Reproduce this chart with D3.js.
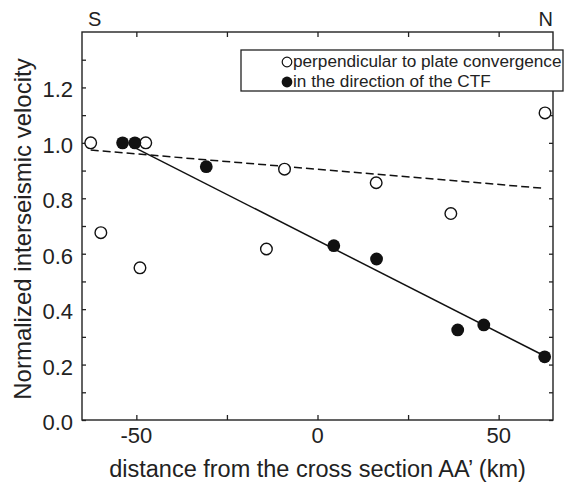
<!DOCTYPE html>
<html>
<head>
<meta charset="utf-8">
<script src="https://cdn.jsdelivr.net/npm/d3@7"></script>
<style>
	body { margin: 0; background: #fff; }
	svg text { font-family: "Liberation Sans", Arial, sans-serif; fill: #222; }
</style>
</head>
<body>
<div id="chart"></div>
<script>
// Velocities perpendicular to plate convergence (open circles)
const perpDistance = [-62.6, -59.8, -49.0, -47.4, -14.1, -9.1, 16.2, 36.8, 62.8];
const perpVelocity = [1.0, 0.676, 0.549, 1.0, 0.617, 0.905, 0.856, 0.745, 1.108];

// Velocities in the direction of the CTF (filled circles)
const ctfDistance = [-53.8, -50.4, -30.7, 4.5, 16.3, 38.7, 45.9, 62.7];
const ctfVelocity = [1.0, 1.0, 0.914, 0.629, 0.581, 0.325, 0.343, 0.228];

// Fitted trend lines (end points)
const perpFitDistance = [-62.6, 62.5];
const perpFitVelocity = [0.974, 0.836];
const ctfFitDistance = [-51.8, 62.7];
const ctfFitVelocity = [0.992, 0.231];

// Ticks
const xMajorTicks = [-50, 0, 50];
const xAllTicks = [-50, -25, 0, 25, 50];
const yMajorTicks = [0.0, 0.2, 0.4, 0.6, 0.8, 1.0, 1.2];
const yAllTicks = [0.0, 0.1, 0.2, 0.3, 0.4, 0.5, 0.6, 0.7, 0.8, 0.9, 1.0, 1.1, 1.2, 1.3];

const legendLabels = ["perpendicular to plate convergence", "in the direction of the CTF"];

const width = 564, height = 484;
const margin = { top: 32, right: 11, bottom: 64, left: 82 };

const svg = d3.select("#chart").append("svg")
	.attr("width", width)
	.attr("height", height);

// Scales
const x = d3.scaleLinear().domain([-65, 65]).range([margin.left, width - margin.right]);
const y = d3.scaleLinear().domain([0, 1.4]).range([height - margin.bottom, margin.top]);

const axisColour = "#222";

// Tick marks point inwards on all four sides
function tickMarks(axis) {
	return axis.tickFormat("").tickSizeOuter(0);
}

svg.append("g")
	.attr("transform", `translate(0,${y(0)})`)
	.call(tickMarks(d3.axisTop(x).tickValues(xAllTicks).tickSizeInner(5)));

svg.append("g")
	.attr("transform", `translate(0,${y(1.4)})`)
	.call(tickMarks(d3.axisBottom(x).tickValues(xAllTicks).tickSizeInner(5)));

svg.append("g")
	.attr("transform", `translate(${x(-65)},0)`)
	.call(tickMarks(d3.axisRight(y).tickValues(yAllTicks).tickSizeInner(4)));

svg.append("g")
	.attr("transform", `translate(${x(65)},0)`)
	.call(tickMarks(d3.axisLeft(y).tickValues(yAllTicks).tickSizeInner(4)));

svg.selectAll(".domain").remove();
svg.selectAll(".tick line").attr("stroke", axisColour).attr("stroke-width", 1.3);

// Frame
svg.append("rect")
	.attr("x", x(-65))
	.attr("y", y(1.4))
	.attr("width", x(65) - x(-65))
	.attr("height", y(0) - y(1.4))
	.attr("fill", "none")
	.attr("stroke", axisColour)
	.attr("stroke-width", 1.4);

// Tick labels
svg.append("g").selectAll("text")
	.data(xMajorTicks)
	.enter()
	.append("text")
	.attr("x", (d) => x(d))
	.attr("y", y(0) + 23)
	.attr("text-anchor", "middle")
	.attr("font-size", 22)
	.text((d) => d);

svg.append("g").selectAll("text")
	.data(yMajorTicks)
	.enter()
	.append("text")
	.attr("x", x(-65) - 9)
	.attr("y", (d) => y(d) + 10)
	.attr("text-anchor", "end")
	.attr("font-size", 22)
	.text((d) => d3.format(".1f")(d));

// Axis titles
svg.append("text")
	.attr("x", x(0))
	.attr("y", 477)
	.attr("text-anchor", "middle")
	.attr("font-size", 23.5)
	.text("distance from the cross section AA\u2019 (km)");

svg.append("text")
	.attr("transform", `translate(31,${(y(0) + y(1.4)) / 2 + 3}) rotate(-90)`)
	.attr("text-anchor", "middle")
	.attr("font-size", 24)
	.text("Normalized interseismic velocity");

// Orientation labels
svg.append("text")
	.attr("x", x(-65) + 6)
	.attr("y", 26)
	.attr("font-size", 20)
	.text("S");

svg.append("text")
	.attr("x", x(65))
	.attr("y", 26)
	.attr("text-anchor", "end")
	.attr("font-size", 20)
	.text("N");

// Trend lines
const line = d3.line().x((d) => x(d[0])).y((d) => y(d[1]));

svg.append("path")
	.attr("d", line(d3.zip(perpFitDistance, perpFitVelocity)))
	.attr("fill", "none")
	.attr("stroke", "#111")
	.attr("stroke-width", 1.5)
	.attr("stroke-dasharray", "8,4");

svg.append("path")
	.attr("d", line(d3.zip(ctfFitDistance, ctfFitVelocity)))
	.attr("fill", "none")
	.attr("stroke", "#111")
	.attr("stroke-width", 1.5);

// Data points
svg.append("g").selectAll("circle")
	.data(d3.zip(perpDistance, perpVelocity))
	.enter()
	.append("circle")
	.attr("cx", (d) => x(d[0]))
	.attr("cy", (d) => y(d[1]))
	.attr("r", 5.8)
	.attr("fill", "#fff")
	.attr("stroke", "#111")
	.attr("stroke-width", 1.4);

svg.append("g").selectAll("circle")
	.data(d3.zip(ctfDistance, ctfVelocity))
	.enter()
	.append("circle")
	.attr("cx", (d) => x(d[0]))
	.attr("cy", (d) => y(d[1]))
	.attr("r", 6.4)
	.attr("fill", "#111");

// Legend
const legend = svg.append("g");

legend.append("rect")
	.attr("x", 241)
	.attr("y", 50)
	.attr("width", 322)
	.attr("height", 41)
	.attr("fill", "#fff")
	.attr("stroke", axisColour)
	.attr("stroke-width", 1.3);

legend.append("circle")
	.attr("cx", 287)
	.attr("cy", 62)
	.attr("r", 4.8)
	.attr("fill", "#fff")
	.attr("stroke", "#111")
	.attr("stroke-width", 1.2);

legend.append("circle")
	.attr("cx", 287)
	.attr("cy", 82)
	.attr("r", 5.4)
	.attr("fill", "#111");

legend.selectAll("text")
	.data(legendLabels)
	.enter()
	.append("text")
	.attr("x", 293)
	.attr("y", (d, i) => 67 + i * 20)
	.attr("font-size", 17.2)
	.text((d) => d);
</script>
</body>
</html>
